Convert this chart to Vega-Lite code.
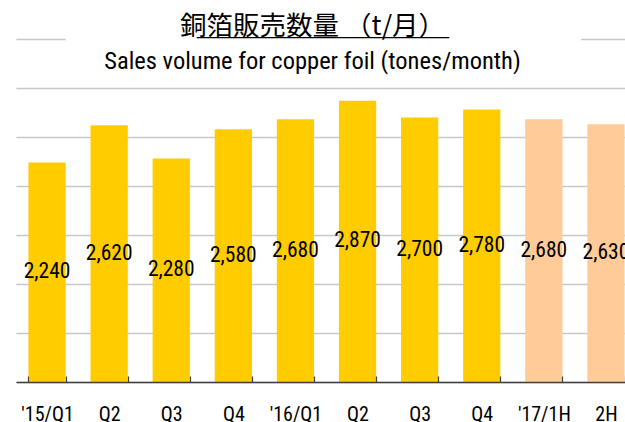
{
  "$schema": "https://vega.github.io/schema/vega-lite/v6.json",
  "autosize": "none",
  "width": 621,
  "height": 343,
  "padding": {"left": 16, "top": 39, "right": 0, "bottom": 40},
  "background": "white",
  "config": {"view": {"stroke": null}},
  "title": {
    "text": "\u3000 銅箔販売数量 （t/月）",
    "subtitle": "Sales volume for copper foil (tones/month)",
    "anchor": "middle",
    "frame": "group",
    "offset": -37,
    "dx": -14,
    "font": "Noto Sans CJK JP",
    "fontSize": 26.5,
    "fontWeight": "normal",
    "color": "#000000",
    "subtitleFont": "Roboto Condensed, Liberation Sans",
    "subtitleFontSize": 24.5,
    "subtitleColor": "#000000",
    "subtitlePadding": 10
  },
  "data": {
    "values": [
      {"k": "2015Q1|'15/Q1", "v": 2240, "s": "actual"},
      {"k": "2015Q2|Q2", "v": 2620, "s": "actual"},
      {"k": "2015Q3|Q3", "v": 2280, "s": "actual"},
      {"k": "2015Q4|Q4", "v": 2580, "s": "actual"},
      {"k": "2016Q1|'16/Q1", "v": 2680, "s": "actual"},
      {"k": "2016Q2|Q2", "v": 2870, "s": "actual"},
      {"k": "2016Q3|Q3", "v": 2700, "s": "actual"},
      {"k": "2016Q4|Q4", "v": 2780, "s": "actual"},
      {"k": "2017H1|'17/1H", "v": 2680, "s": "forecast"},
      {"k": "2017H2|2H", "v": 2630, "s": "forecast"}
    ]
  },
  "encoding": {
    "x": {
      "field": "k",
      "type": "nominal",
      "sort": null,
      "scale": {
        "domain": ["2015Q1|'15/Q1", "2015Q2|Q2", "2015Q3|Q3", "2015Q4|Q4", "2016Q1|'16/Q1", "2016Q2|Q2", "2016Q3|Q3", "2016Q4|Q4", "2017H1|'17/1H", "2017H2|2H"],
        "paddingInner": 0.4,
        "paddingOuter": 0.2
      },
      "axis": {
        "title": null,
        "labelExpr": "split(datum.label, '|')[1]",
        "labelAngle": 0,
        "labelFont": "Roboto Condensed, Liberation Sans",
        "labelFontSize": 20,
        "labelColor": "#000000",
        "labelPadding": 28,
        "tickBand": "extent",
        "tickSize": -6,
        "tickColor": "#404040",
        "tickWidth": 1.2,
        "domainColor": "#404040",
        "domainWidth": 1.3,
        "grid": false,
        "zindex": 1
      }
    }
  },
  "layer": [
    {
      "mark": {"type": "bar"},
      "encoding": {
        "y": {
          "field": "v",
          "type": "quantitative",
          "scale": {"domain": [0, 3500], "nice": false},
          "axis": {
            "values": [0, 500, 1000, 1500, 2000, 2500, 3000, 3500],
            "grid": true,
            "gridColor": "#C8C8C8",
            "gridWidth": 1.3,
            "labels": false,
            "ticks": false,
            "domain": false,
            "title": null
          }
        },
        "color": {
          "field": "s",
          "type": "nominal",
          "scale": {"domain": ["actual", "forecast"], "range": ["#FFCC00", "#FFCC99"]},
          "legend": null
        }
      }
    },
    {
      "data": {"values": [{"cover": "title"}]},
      "mark": {"type": "rect", "color": "white"},
      "encoding": {
        "x": {"datum": "2015Q1|'15/Q1", "bandPosition": 1},
        "x2": {"datum": "2017H1|'17/1H", "bandPosition": 1.5},
        "y": {"datum": 3300, "type": "quantitative", "scale": {"domain": [0, 3500], "nice": false}, "axis": null},
        "y2": {"datum": 3525}
      }
    },
    {
      "data": {"values": [{"underline": "title"}]},
      "mark": {"type": "rule", "color": "#000000", "strokeWidth": 1.3},
      "encoding": {
        "x": {"datum": "2015Q3|Q3", "bandPosition": 1.183},
        "x2": {"datum": "2016Q3|Q3", "bandPosition": 1.296},
        "y": {"datum": 3515, "type": "quantitative", "scale": {"domain": [0, 3500], "nice": false}, "axis": null}
      }
    },
    {
      "mark": {
        "type": "text",
        "font": "Roboto Condensed, Liberation Sans",
        "fontSize": 21.5,
        "color": "#000000",
        "baseline": "middle",
        "align": "center"
      },
      "encoding": {
        "y": {"field": "v", "type": "quantitative", "scale": {"domain": [0, 7000], "nice": false}, "axis": null},
        "text": {"field": "v", "type": "quantitative", "format": ","}
      }
    }
  ],
  "resolve": {"scale": {"y": "independent"}}
}
